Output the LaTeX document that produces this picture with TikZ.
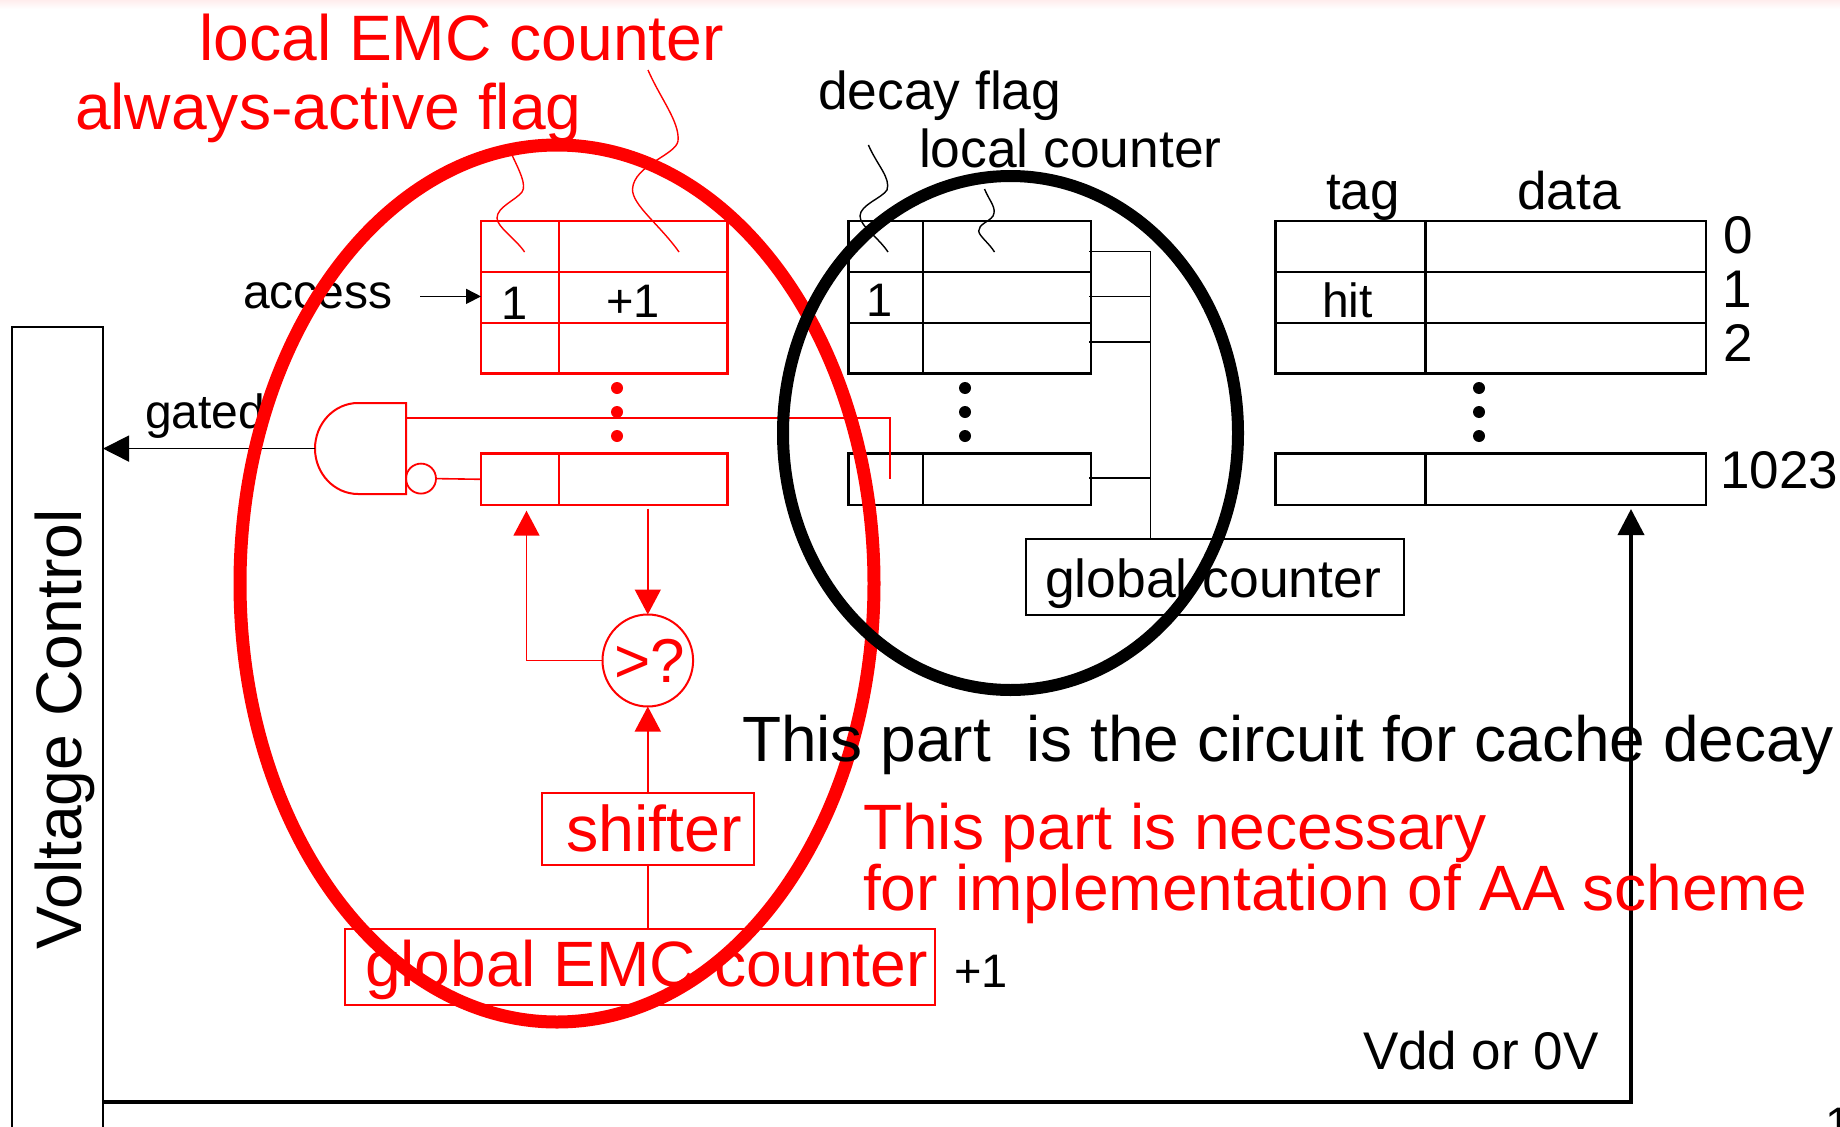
\documentclass[tikz,border=0pt]{standalone}
\usepackage{fontspec}
\setmainfont{Liberation Sans}
\usetikzlibrary{arrows.meta,shapes.geometric}
\definecolor{rd}{RGB}{255,0,0}
\newcommand{\lbl}[5]{\node[txt,text=#1] (#2) at (#3) {\fontsize{#4}{#4}\selectfont #5};}
% name, x0, x1, x2, y0, y1, style
\newcommand{\cellrow}[7]{%
  \node[#7,minimum width={(#3-#2)*1pt},minimum height={(#6-#5)*1pt}] (#1-a) at ({(#2+#3)/2},{(#5+#6)/2}) {};
  \node[#7,minimum width={(#4-#3)*1pt},minimum height={(#6-#5)*1pt}] (#1-b) at ({(#3+#4)/2},{(#5+#6)/2}) {};}
\tikzset{
  txt/.style={anchor=base west,inner sep=0,outer sep=0},
  redcell/.style={draw=rd,line width=2.6pt,inner sep=0,outer sep=0,rectangle},
  blackcell/.style={draw=black,line width=2.8pt,inner sep=0,outer sep=0,rectangle},
  redbox/.style={draw=rd,line width=2pt,inner sep=0,outer sep=0,rectangle},
  blackbox/.style={draw=black,line width=2pt,inner sep=0,outer sep=0,rectangle},
  redwire/.style={draw=rd,line width=1.6pt},
  blackwire/.style={draw=black,line width=1.6pt},
  redhead/.style={-{Triangle[length=25pt,width=26pt,fill=rd]}},
  blackhead/.style={-{Triangle[length=26pt,width=26pt,fill=black]}},
  squiggle/.style={line width=1.4pt},
  ring/.style={ellipse,inner sep=0,outer sep=0},
  dotmark/.style={circle,inner sep=0,outer sep=0,minimum size=12pt},
}
\begin{document}
\begin{tikzpicture}[x=1pt,y=-1pt]
\useasboundingbox (0,0) rectangle (1840,1127);
\fill[white] (0,0) rectangle (1840,1127);
\shade[top color=rd!7,bottom color=white] (0,0) rectangle (1840,9);

% tables
\cellrow{ra}{481}{559}{727.5}{221}{272}{redcell}
\cellrow{rb}{481}{559}{727.5}{272}{323}{redcell}
\cellrow{rc}{481}{559}{727.5}{323}{373.6}{redcell}
\cellrow{rd}{481}{559}{727.5}{453.6}{505}{redcell}
\cellrow{ma}{848.5}{923}{1091}{221}{272}{blackcell}
\cellrow{mb}{848.5}{923}{1091}{272}{323}{blackcell}
\cellrow{mc}{848.5}{923}{1091}{323}{373.6}{blackcell}
\cellrow{md}{848.5}{923}{1091}{453.6}{505}{blackcell}
\cellrow{ta}{1275.6}{1425.6}{1706}{221}{272}{blackcell}
\cellrow{tb}{1275.6}{1425.6}{1706}{272}{323}{blackcell}
\cellrow{tc}{1275.6}{1425.6}{1706}{323}{373.6}{blackcell}
\cellrow{td}{1275.6}{1425.6}{1706}{453.6}{505}{blackcell}

% dots
\foreach \n/\y in {1/388,2/412,3/436}{
  \node[dotmark,fill=rd] (rdot\n) at (617,\y) {};
  \node[dotmark,fill=black] (mdot\n) at (965,\y) {};
  \node[dotmark,fill=black] (tdot\n) at (1479,\y) {};
}

% voltage control box
\node[blackbox,minimum width=91pt,minimum height=820pt] (vc) at (57.5,736.5) {};
\node[txt,rotate=90] (vclabel) at (81.5,949) {\fontsize{64.3}{64.3}\selectfont Voltage Control};

% global counter, shifter, EMC boxes, comparator
\node[blackbox,minimum width=378.4pt,minimum height=76pt] (gc) at (1214.8,577) {};
\node[redbox,minimum width=212.4pt,minimum height=72.5pt] (shift) at (647.8,828.8) {};
\node[redbox,minimum width=590.5pt,minimum height=76.5pt] (emc) at (639.8,966.8) {};
\node[ring,draw=rd,line width=2pt,minimum width=90.6pt,minimum height=92pt] (cmp) at (647.8,660.5) {};

% gate
\coordinate (gateout) at (315,448.6);
\coordinate (gatetop) at (406,418);
\draw[redwire,line width=2pt] (358,403) -- (406,403) -- (406,494) -- (358,494)
   .. controls (334.3,494) and (315,473.5) .. (gateout)
   .. controls (315,423.5) and (334.3,403) .. (358,403);
\node[circle,draw=rd,line width=1.8pt,inner sep=0,outer sep=0,minimum size=30pt] (bub) at (421,478.6) {};
\draw[redwire] (bub.east) -- (rd-a.west);
\coordinate (wireend) at (890,479);
\draw[redwire] (gatetop) -- (wireend |- gatetop) -- (wireend);

% connectors
\draw[blackwire,blackhead] (gateout) -- (vc.east |- gateout);
\coordinate (accs) at (420,296.4);
\draw[blackwire,-{Triangle[length=15pt,width=15pt,fill=black]}] (accs) -- (rb-a.west |- accs);
\coordinate (cmpup) at (647.8,508.6);
\draw[redwire,redhead] (cmpup) -- (cmp.north);
\coordinate (fbtop) at (526.5,510.7);
\draw[redwire,redhead] (cmp.west) -- (fbtop |- cmp.west) -- (fbtop);
\draw[redwire,redhead] (shift.north -| cmp.south) -- (cmp.south);
\draw[redwire] (emc.north -| cmp.south) -- (shift.south -| cmp.south);

% bus
\coordinate (busb) at (1150.6,251.4);
\coordinate (s1) at (1089,251.4);
\coordinate (s2) at (1089,296.4);
\coordinate (s3) at (1089,341.8);
\coordinate (s4) at (1089,478);
\draw[blackwire] (gc.north -| busb) -- (busb) -- (s1);
\draw[blackwire] (s2) -- (s2 -| busb);
\draw[blackwire] (s3) -- (s3 -| busb);
\draw[blackwire] (s4) -- (s4 -| busb);

% Vdd line
\coordinate (vddtop) at (1631,509);
\draw[draw=black,line width=3.8pt,-{Triangle[length=26pt,width=26pt,fill=black]}]
  (vc.east |- 0,1101.8) -- (vddtop |- 0,1101.8) -- (vddtop);

% squiggles
\draw[rd,squiggle] (512,155) .. controls (519,170) and (527,185) .. (522,192)
   .. controls (516,200) and (497,207) .. (497,218)
   .. controls (497,227) and (515,238) .. (524.6,252);
\draw[rd,squiggle] (648,70) .. controls (660,98) and (680,122) .. (678,141)
   .. controls (676,155) and (634,165) .. (632.5,189)
   .. controls (632,205) and (660,225) .. (679,252);
\draw[black,squiggle] (868.4,145) .. controls (877,165) and (891,178) .. (887,190)
   .. controls (882,198) and (860,205) .. (860,216)
   .. controls (860,226) and (878,237) .. (888,252);
\draw[black,squiggle] (984.5,189) .. controls (990,202) and (997,208) .. (993,216)
   .. controls (989,222) and (978.5,224) .. (978.7,231)
   .. controls (979,236) and (989,243) .. (994.5,252);

% labels under the rings
\lbl{rd}{lemc}{199.3,60.5}{64.2}{local EMC counter}
\lbl{rd}{aaf}{75,129.5}{64.2}{always-active flag}
\lbl{black}{dflag}{818,109.5}{53.4}{decay flag}
\lbl{black}{lcount}{919,167}{53.4}{local counter}
\lbl{black}{tag}{1326,209}{53}{tag}
\lbl{black}{data}{1517.5,209}{53}{data}
\lbl{black}{n0}{1723,253.5}{53}{0}
\lbl{black}{n1}{1722,307}{53}{1}
\lbl{black}{n2}{1723,361.5}{53}{2}
\lbl{black}{n1023}{1720.5,488.5}{53}{1023}
\lbl{black}{hit}{1322,317.5}{48}{hit}
\lbl{black}{one}{501,319}{47}{1}
\lbl{black}{plus}{606,317}{47}{+1}
\lbl{black}{mone}{866,316}{47}{1}
\lbl{black}{access}{243,308}{48}{access}
\lbl{black}{gated}{145,428}{48}{gated}
\lbl{rd}{shifttext}{566,851}{64.6}{shifter}
\lbl{rd}{cmptext}{614,682}{62}{>?}
\lbl{rd}{emctext}{365,986.7}{64.1}{global EMC counter}
\lbl{black}{plusb}{954,987}{47}{+1}
\lbl{black}{gctext}{1045,597}{53.5}{global counter}
\lbl{black}{vdd}{1363,1069}{53}{Vdd or 0V}
\lbl{black}{pageno}{1825,1140}{47}{1}

% rings
\node[ring,draw=rd,line width=13pt,minimum width=634pt,minimum height=877pt] (redring) at (557,583.5) {};
\node[ring,draw=black,line width=12pt,minimum width=455pt,minimum height=514pt] (blackring) at (1010.5,433) {};

% labels over the rings
\lbl{black}{cap}{742,761.7}{64}{This part\ \ is the circuit for cache decay}
\lbl{rd}{capa}{863,849.6}{64.1}{This part is necessary}
\lbl{rd}{capb}{863,910}{64.1}{for implementation of AA scheme}
\end{tikzpicture}
\end{document}
